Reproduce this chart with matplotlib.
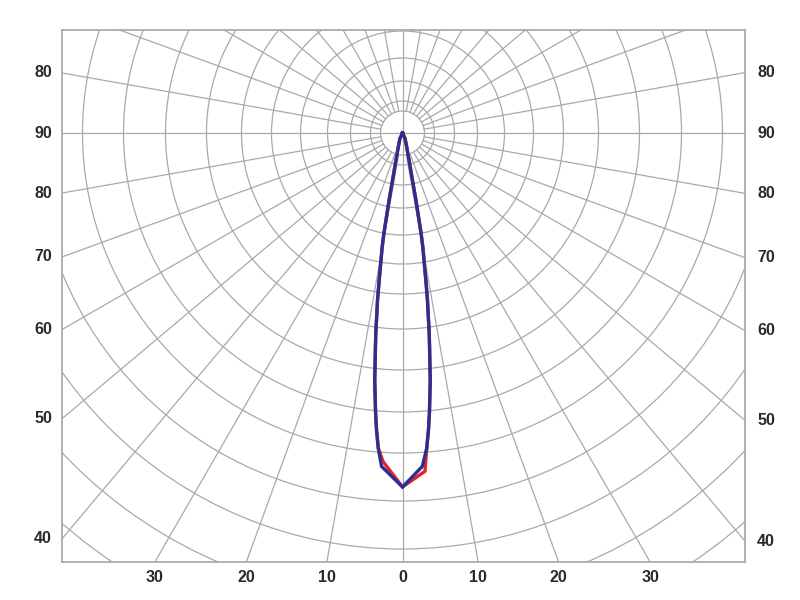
import numpy as np
import matplotlib.pyplot as plt
from matplotlib.patches import Circle

# polar grid, plot units are pixels measured from the lamp centre
ring_radii = [22, 32, 52, 75, 102, 131, 161, 196, 237, 279, 320, 368, 416, 467, 518]
ray_angles = list(range(0, 360, 10))

# angle labels (degrees from nadir)
side_labels = [100, 90, 80, 70, 60, 50, 40]
bottom_labels = [-30, -20, -10, 0, 10, 20, 30]

# beam flank, from the top of the lobe down towards the corner
flank_angle = [40, 25, 17, 13.6, 12.3, 11.7, 11.3, 10.9, 10.5, 10.1, 9.4, 9.0,
               8.5, 8.1, 7.6, 7.2, 6.4, 5.5, 5.0, 4.4]
flank_r = [0, 6, 14, 28, 41, 54, 68, 82, 102, 116, 135, 149,
           169, 182, 202, 216, 249, 281, 298, 316]
nadir_r = 354

# corners (left, right) of the two curves
blue_corner_angle = [3.6, 3.4]
blue_corner_r = [334, 334]
red_corner_angle = [3.4, 3.8]
red_corner_r = [329, 339]

xmin, xmax = -340.5, 342.5
ymin, ymax = -429, 103


def build_curve(c_ang, c_r):
    ang = [-a for a in flank_angle] + [-c_ang[0], 0, c_ang[1]] + flank_angle[::-1]
    r = flank_r + [c_r[0], nadir_r, c_r[1]] + flank_r[::-1]
    t = np.radians(ang)
    r = np.array(r, dtype=float)
    return r * np.sin(t), -r * np.cos(t)


fig = plt.figure(figsize=(8, 6), dpi=100)
ax = fig.add_axes([62 / 800, 1 - 562 / 600, 683 / 800, 532 / 600])
ax.set_xlim(xmin, xmax)
ax.set_ylim(ymin, ymax)
ax.set_xticks([])
ax.set_yticks([])
for s in ax.spines.values():
    s.set_color('#ababab')
    s.set_linewidth(1.3)

grid_col = '#a9a9a9'
for rr in ring_radii:
    ax.add_patch(Circle((0, 0), rr, fill=False, ec=grid_col, lw=0.9))
for a in ray_angles:
    t = np.radians(a)
    r0 = 0 if a % 90 == 0 else ring_radii[0]
    ax.plot([r0 * np.sin(t), 700 * np.sin(t)], [-r0 * np.cos(t), -700 * np.cos(t)],
            color=grid_col, lw=0.9)

x, y = build_curve(red_corner_angle, red_corner_r)
ax.plot(x, y, color='#e8202a', lw=2.4, solid_joinstyle='miter')
x, y = build_curve(blue_corner_angle, blue_corner_r)
ax.plot(x, y, color='#2b2f8f', lw=2.4, solid_joinstyle='miter')

lab = dict(fontsize=11.5, fontweight='bold', color='#2a2a2a',
           family='Liberation Sans', ha='center', va='center')
for a in side_labels:
    t = np.radians(a)
    txt = str(a if a <= 90 else 180 - a)
    ax.text(xmin - 19, xmin * np.cos(t) / np.sin(t), txt, **lab)
    ax.text(xmax + 21, -xmax * np.cos(t) / np.sin(t), txt, **lab)
for a in bottom_labels:
    ax.text(-ymin * np.tan(np.radians(a)), ymin - 16, str(abs(a)), **lab)

fig.savefig('out.png', dpi=100)
